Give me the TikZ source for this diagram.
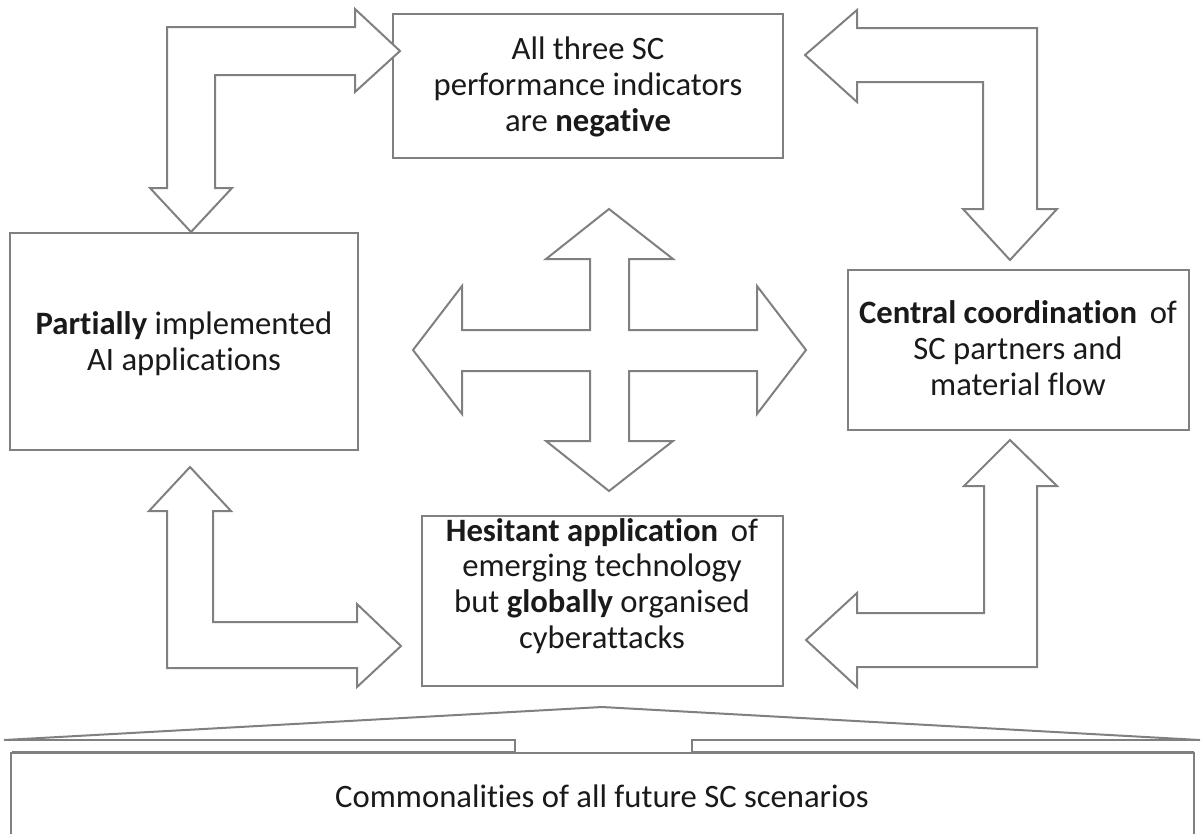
\documentclass[tikz,border=0pt]{standalone}
\usepackage{fontspec}
\setmainfont{Carlito}[Ligatures=NoCommon]
\definecolor{edge}{HTML}{808080}
\definecolor{txt}{HTML}{1A1A1A}
\begin{document}
\begin{tikzpicture}[x=0.75pt,y=-0.75pt,
  outline/.style={draw=edge,line width=1.5pt,line join=miter,fill=white},
  box/.style={draw=edge,line width=1.5pt,fill=white},
  label/.style={text=txt,font=\fontsize{24.5}{26.8}\selectfont,align=center}]
\useasboundingbox (0,0) rectangle (1202,833);

% boxes
\draw[box] (393,14) rectangle (783,158);
\draw[box] (10,233) rectangle (358,450);
\draw[box] (848,270) rectangle (1189,430);
\draw[box] (422,516) rectangle (783,686);
\draw[box] (11,753) rectangle (1194,840);

\node[label] (neg) at (588,87) {All three SC\\performance indicators\\are \textbf{negative}};
\node[label] (part) at (184,344) {\textbf{Partially} implemented\\AI applications};
\node[label] (coord) at (1018,348) {\textbf{Central coordination}\, of\\SC partners and\\material flow};
\node[label] (hes) at (602,586) {\textbf{Hesitant application}\, of\\emerging technology\\but \textbf{globally} organised\\cyberattacks};
\node[label] (comm) at (602,796) {Commonalities of all future SC scenarios};

% bent arrow: top left
\draw[outline] (191,232) -- (232,188) -- (215,188) -- (215,75) -- (355,75) -- (355,92)
  -- (400,51) -- (355,9) -- (355,27) -- (167,27) -- (167,188) -- (150,188) -- cycle;

% bent arrow: top right
\draw[outline] (805,55) -- (857,10) -- (857,28) -- (1037,28) -- (1037,209) -- (1057,209)
  -- (1010,260) -- (963,209) -- (983,209) -- (983,82) -- (857,82) -- (857,102) -- cycle;

% four-way arrow in the centre
\draw[outline] (609,209) -- (673,259) -- (629,259) -- (629,330) -- (757,330) -- (757,286)
  -- (806,350) -- (757,414) -- (757,371) -- (629,371) -- (629,441) -- (673,441)
  -- (609,491) -- (546,441) -- (590,441) -- (590,371) -- (462,371) -- (462,414)
  -- (413,350) -- (462,286) -- (462,330) -- (590,330) -- (590,259) -- (546,259) -- cycle;

% bent arrow: bottom left
\draw[outline] (190,467) -- (231,511) -- (213,511) -- (213,622) -- (357,622) -- (357,604)
  -- (401,646) -- (357,687) -- (357,668) -- (167,668) -- (167,511) -- (149,511) -- cycle;

% bent arrow: bottom right
\draw[outline] (1010,440) -- (1057,486) -- (1037,486) -- (1037,667) -- (857,667) -- (857,687)
  -- (806,640) -- (857,593) -- (857,613) -- (984,613) -- (984,486) -- (964,486) -- cycle;

% brace above the commonalities box
\draw[draw=edge,line width=1.5pt,line join=miter] (4,740) -- (602,707) -- (1200,740);
\draw[draw=edge,line width=1.5pt] (4,740) -- (515,740) -- (515,752) -- (12,752);
\draw[draw=edge,line width=1.5pt] (1200,740) -- (692,740) -- (692,752) -- (1194,752);
\end{tikzpicture}
\end{document}
